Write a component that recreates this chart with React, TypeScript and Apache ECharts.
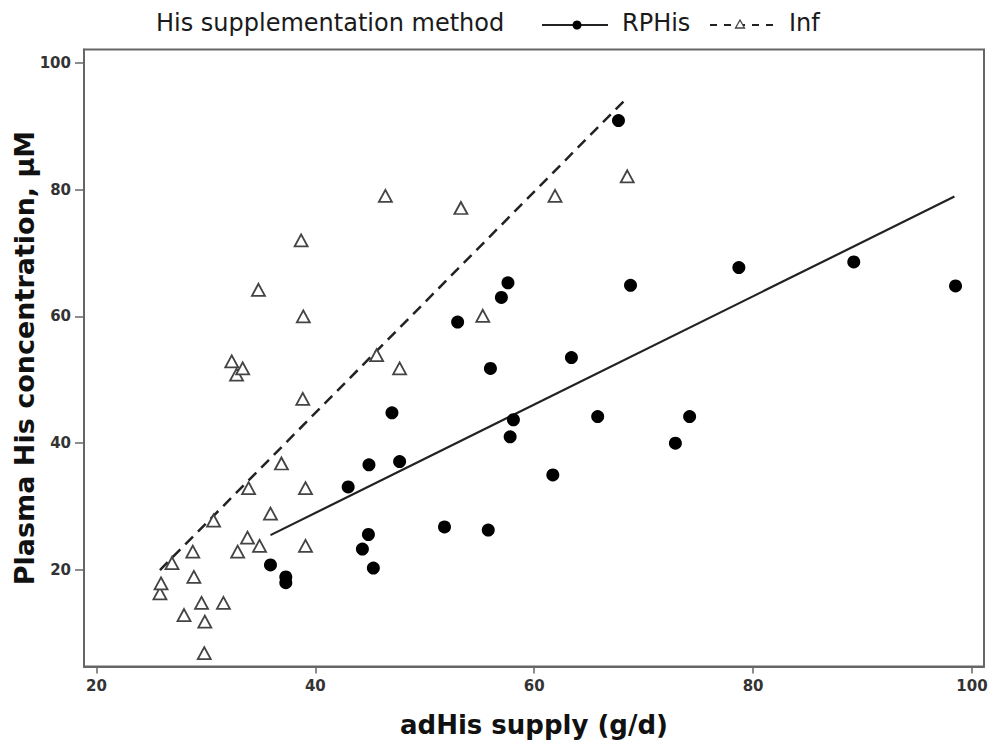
import React, { useEffect, useRef } from "react";
import * as echarts from "echarts";

// RPHis observations (adHis supply g/d, plasma His µM)
const rphisX = [35.9, 37.3, 37.3, 43.0, 44.3, 44.85, 44.9, 45.3, 47.0, 47.7, 51.8, 53.0, 55.8, 56.0, 57.0, 57.6, 57.8, 58.1, 61.7, 63.4, 65.8, 67.7, 68.8, 72.9, 74.2, 78.7, 89.2, 98.5];
const rphisY = [20.8, 18.9, 18.0, 33.1, 23.3, 25.6, 36.6, 20.3, 44.8, 37.1, 26.8, 59.1, 26.3, 51.8, 63.0, 65.3, 41.0, 43.7, 35.0, 53.5, 44.2, 90.9, 64.9, 40.0, 44.2, 67.7, 68.6, 64.8];

// Inf observations
const infX = [25.8, 25.9, 26.9, 28.0, 28.8, 28.9, 29.6, 29.85, 29.9, 30.7, 31.6, 32.36, 32.8, 32.9, 33.36, 33.8, 33.9, 34.8, 34.9, 35.9, 36.9, 38.7, 38.85, 38.9, 39.1, 39.1, 45.6, 46.4, 47.7, 53.3, 55.3, 61.9, 68.5];
const infY = [16.3, 17.9, 21.1, 12.9, 22.9, 18.9, 14.8, 6.9, 11.85, 27.8, 14.8, 52.9, 50.8, 22.9, 51.8, 25.1, 32.9, 64.2, 23.8, 28.9, 36.8, 72.0, 47.0, 60.0, 32.9, 23.8, 53.9, 79.0, 51.8, 77.1, 60.1, 79.0, 82.1];

// Fitted lines (endpoints)
const rphisFitX = [35.9, 98.4];
const rphisFitY = [25.5, 78.9];
const infFitX = [25.8, 68.5];
const infFitY = [20.0, 94.5];

const xTicks = [20, 40, 60, 80, 100];
const yTicks = [20, 40, 60, 80, 100];

const legendTitle = "His supplementation method";
const seriesNames = ["RPHis", "Inf"];
const xName = "adHis supply (g/d)";
const yName = "Plasma His concentration, µM";

const FONT = "DejaVu Sans";

export default function App() {
  const ref = useRef<HTMLDivElement>(null);
  useEffect(() => {
    if (!ref.current) return;
    const chart = echarts.init(ref.current, null, { renderer: "svg" });
    const zip = (xs: number[], ys: number[]) => xs.map((x, i) => [x, ys[i]]);
    const legendY = 25;
    chart.setOption({
      animation: false,
      backgroundColor: "#fff",
      textStyle: { fontFamily: FONT },
      grid: {
        left: 84,
        top: 49.5,
        width: 900,
        height: 617,
        show: true,
        borderColor: "#666",
        borderWidth: 2,
        containLabel: false,
        outerBoundsMode: "none",
      },
      xAxis: {
        type: "value",
        min: 18.86,
        max: 101.1,
        splitLine: { show: false },
        axisLine: { show: true, lineStyle: { color: "#666", width: 2 } },
        axisTick: { show: true, customValues: xTicks, length: 7, lineStyle: { color: "#666", width: 1.5 } },
        axisLabel: {
          customValues: xTicks,
          fontSize: 15,
          fontWeight: "bold",
          color: "#333",
          fontFamily: FONT,
          margin: 12,
        },
        name: xName,
        nameLocation: "middle",
        nameGap: 45,
        nameMoveOverlap: false,
        nameTextStyle: { fontSize: 26, fontWeight: "bold", color: "#111", fontFamily: FONT },
      },
      yAxis: {
        type: "value",
        min: 4.78,
        max: 102.1,
        splitLine: { show: false },
        axisLine: { show: true, lineStyle: { color: "#666", width: 2 } },
        axisTick: { show: true, customValues: yTicks, length: 9, lineStyle: { color: "#666", width: 1.5 } },
        axisLabel: {
          customValues: yTicks,
          fontSize: 15,
          fontWeight: "bold",
          color: "#333",
          fontFamily: FONT,
          margin: 13,
        },
        name: yName,
        nameLocation: "middle",
        nameRotate: 90,
        nameGap: 46,
        nameMoveOverlap: false,
        nameTextStyle: { fontSize: 27, fontWeight: "bold", color: "#111", fontFamily: FONT },
      },
      series: [
        {
          name: "Inf fit",
          type: "line",
          data: zip(infFitX, infFitY),
          symbol: "none",
          lineStyle: { color: "#222", width: 2.5, type: [11, 7] },
          z: 2,
        },
        {
          name: "RPHis fit",
          type: "line",
          data: zip(rphisFitX, rphisFitY),
          symbol: "none",
          lineStyle: { color: "#222", width: 2.2, type: "solid" },
          z: 2,
        },
        {
          name: seriesNames[1],
          type: "scatter",
          data: zip(infX, infY),
          symbol: "triangle",
          symbolSize: [13, 12],
          itemStyle: { color: "#fff", borderColor: "#444", borderWidth: 1.8, opacity: 1 },
          z: 3,
        },
        {
          name: seriesNames[0],
          type: "scatter",
          data: zip(rphisX, rphisY),
          symbol: "circle",
          symbolSize: 13,
          itemStyle: { color: "#000", opacity: 1 },
          z: 4,
        },
      ],
      graphic: [
        {
          type: "text",
          left: 156,
          top: legendY - 14,
          style: { text: legendTitle, font: `24px ${FONT}`, fill: "#1a1a1a" },
        },
        {
          type: "line",
          shape: { x1: 542, y1: legendY, x2: 608, y2: legendY },
          style: { stroke: "#222", lineWidth: 2 },
        },
        { type: "circle", shape: { cx: 577, cy: legendY, r: 4.5 }, style: { fill: "#000" } },
        {
          type: "text",
          left: 622,
          top: legendY - 14,
          style: { text: seriesNames[0], font: `24px ${FONT}`, fill: "#1a1a1a" },
        },
        {
          type: "line",
          shape: { x1: 710, y1: legendY, x2: 775, y2: legendY },
          style: { stroke: "#222", lineWidth: 2, lineDash: [7, 7] },
        },
        {
          type: "polygon",
          shape: { points: [[740, legendY - 5], [744.5, legendY + 3], [735.5, legendY + 3]] },
          style: { fill: "#fff", stroke: "#444", lineWidth: 1.3 },
        },
        {
          type: "text",
          left: 789,
          top: legendY - 14,
          style: { text: seriesNames[1], font: `24px ${FONT}`, fill: "#1a1a1a" },
        },
      ],
    });
    return () => chart.dispose();
  }, []);
  return (
    <div
      ref={ref}
      style={{ position: "fixed", left: 0, top: 0, width: 990, height: 741, background: "#fff" }}
    />
  );
}
